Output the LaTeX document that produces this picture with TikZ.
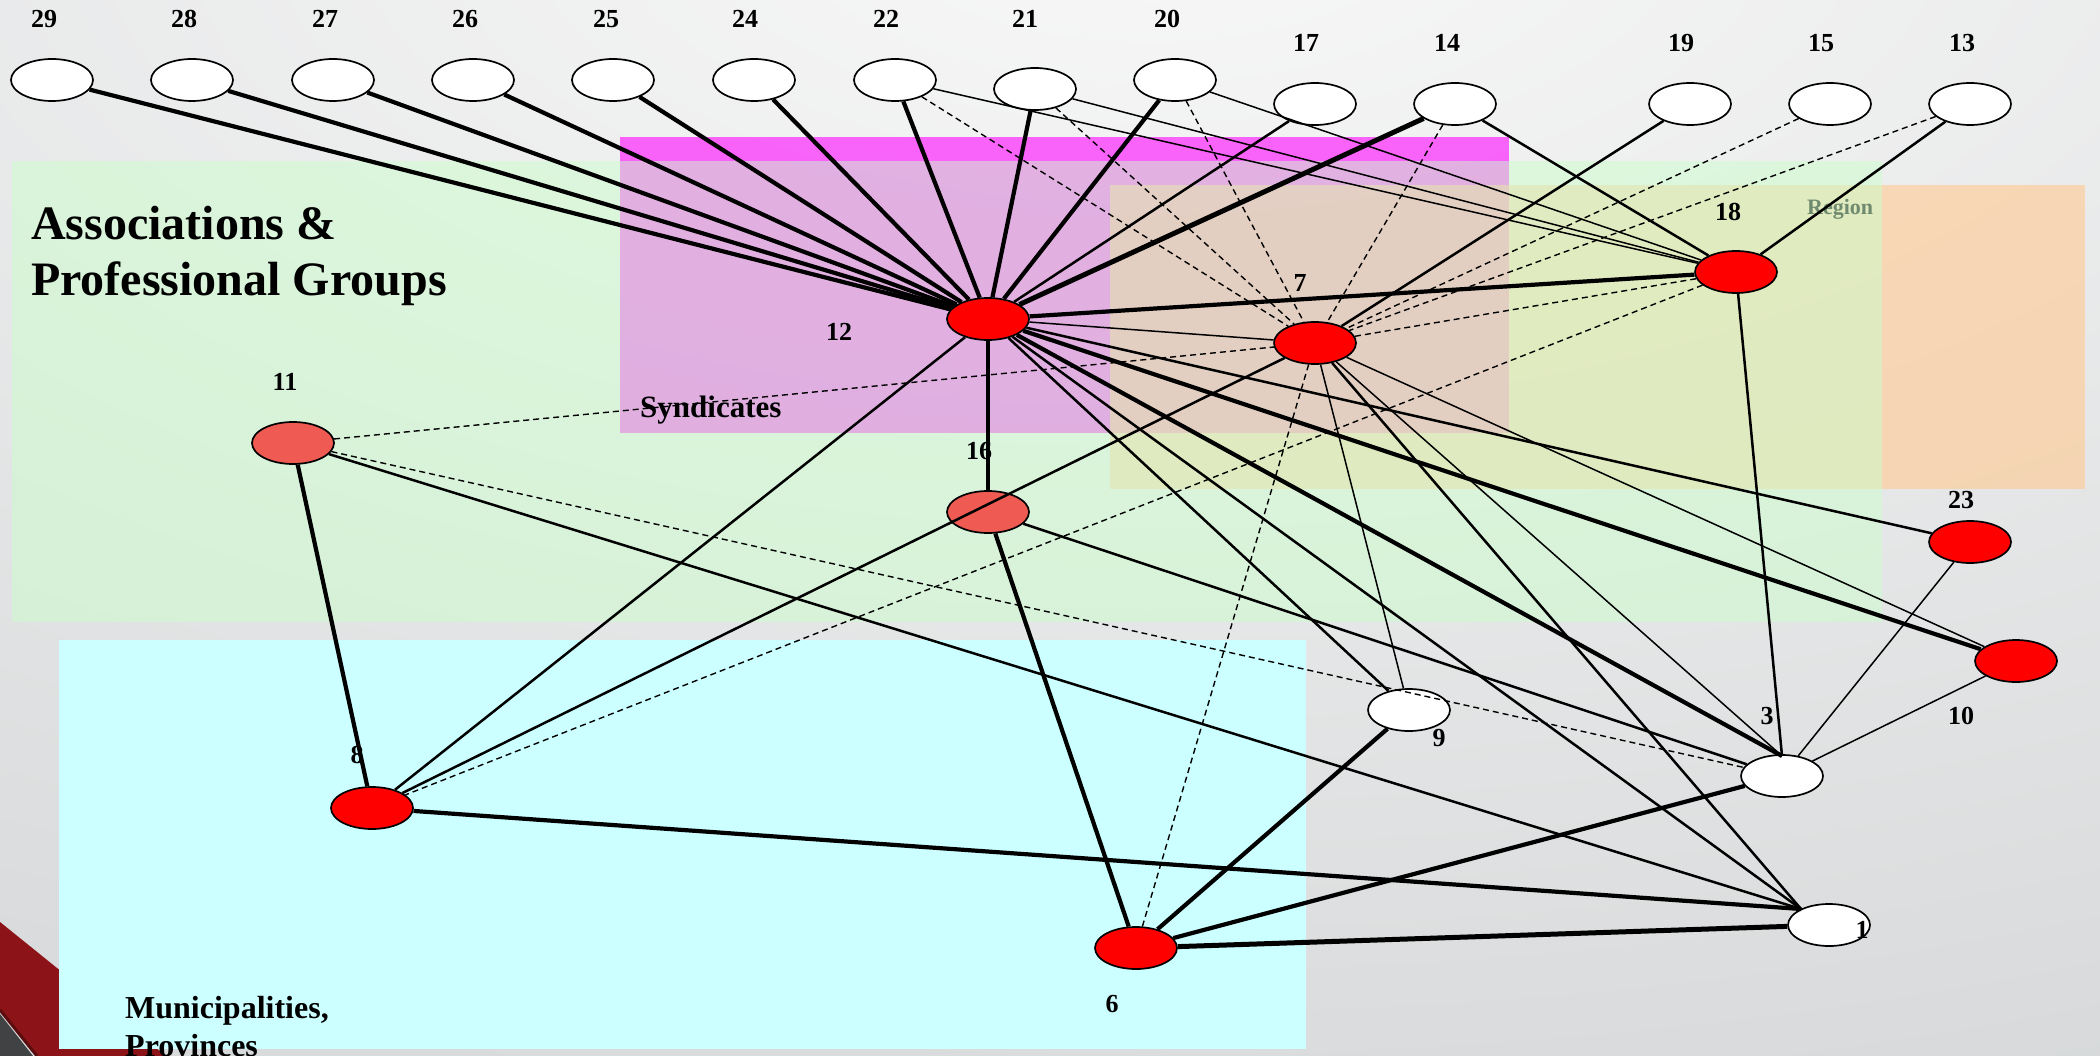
\documentclass[tikz,border=0pt]{standalone}
\usepackage{fontspec}
\setmainfont{Liberation Serif}
\usetikzlibrary{shapes.geometric}
\definecolor{bgIn}{HTML}{F8F8F8}
\definecolor{bgOut}{HTML}{BABEC0}
\definecolor{grn}{HTML}{CCFFCC}
\definecolor{mag}{HTML}{FF00FF}
\definecolor{org}{HTML}{FFC990}
\definecolor{cyn}{HTML}{CCFFFF}
\definecolor{sal}{HTML}{EF5A52}
\definecolor{rgn}{HTML}{6F8A6F}
\definecolor{dred}{HTML}{8C1418}
\definecolor{ddred}{HTML}{5A0C0E}
\definecolor{dgray}{HTML}{404244}
\begin{document}
\begin{tikzpicture}[x=1pt,y=-1pt,
  nd/.style={ellipse, draw=black, line width=1.7pt, minimum width=82pt, minimum height=42pt, inner sep=0pt},
  wn/.style={nd, fill=white},
  rn/.style={nd, fill=red},
  sn/.style={nd, fill=sal},
  lbl/.style={font=\fontsize{26}{26}\selectfont\bfseries, inner sep=0pt},
  eT/.style={line width=4.2pt},
  eX/.style={line width=5pt},
  eM/.style={line width=2.5pt},
  eS/.style={line width=1.5pt},
  eD/.style={line width=1.4pt, dash pattern=on 6pt off 4pt}]
\useasboundingbox (0,0) rectangle (2100,1056);
% background
\begin{scope}
\clip (0,0) rectangle (2100,1056);
\shade[inner color=bgIn, outer color=bgOut] (1150,-100) ellipse [x radius=4900pt, y radius=2350pt];
% red decoration bottom-left
\fill[dred] (0,922) -- (166,1056) -- (37,1056) -- (0,1010) -- cycle;
\fill[dgray] (0,1014) -- (33,1056) -- (0,1056) -- cycle;
\draw[ddred, line width=3pt] (0,1010) -- (37,1056);
\end{scope}
% group boxes
\fill[mag, opacity=0.59] (620,137) rectangle (1509,433);
\fill[org, opacity=0.6] (1110,185) rectangle (2085,489);
\fill[grn, opacity=0.5] (12,161) rectangle (1882,622);
\fill[cyn] (59,640) rectangle (1306,1049);
% texts
\node[anchor=base west, inner sep=0pt, font=\fontsize{48}{48}\selectfont\bfseries] (tAssoc) at (31,240) {Associations \&};
\node[anchor=base west, inner sep=0pt, font=\fontsize{48}{48}\selectfont\bfseries] (tProf) at (31,296) {Professional Groups};
\node[anchor=base west, inner sep=0pt, font=\fontsize{31}{31}\selectfont\bfseries] (tSynd) at (640,417) {Syndicates};
\node[anchor=base west, inner sep=0pt, font=\fontsize{32}{32}\selectfont\bfseries] (tMun) at (125,1018) {Municipalities,};
\node[anchor=base west, inner sep=0pt, font=\fontsize{32}{32}\selectfont\bfseries] (tProv) at (125,1056) {Provinces};
\node[anchor=base west, inner sep=0pt, text=rgn, font=\fontsize{22}{22}\selectfont\bfseries] (tReg) at (1807,215) {Region};
% nodes
\node[wn] (n29) at (52,80) {};
\node[wn] (n28) at (192,80) {};
\node[wn] (n27) at (333,80) {};
\node[wn] (n26) at (473,80) {};
\node[wn] (n25) at (613,80) {};
\node[wn] (n24) at (754,80) {};
\node[wn] (n22) at (895,80) {};
\node[wn] (n21) at (1035,89) {};
\node[wn] (n20) at (1175,80) {};
\node[wn] (n17) at (1315,104) {};
\node[wn] (n14) at (1455,104) {};
\node[wn] (n19) at (1690,104) {};
\node[wn] (n15) at (1830,104) {};
\node[wn] (n13) at (1970,104) {};
\node[rn] (n12) at (988,319) {};
\node[rn] (n7) at (1315,343) {};
\node[rn] (n18) at (1736,272) {};
\node[sn] (n11) at (293,443) {};
\node[sn] (n16) at (988,512) {};
\node[rn] (n8) at (372,808) {};
\node[rn] (n6) at (1136,948) {};
\node[wn] (n9) at (1409,710) {};
\node[wn] (n3) at (1782,776) {};
\node[wn] (n1) at (1829,925) {};
\node[rn] (n23) at (1970,542) {};
\node[rn] (n10) at (2016,661) {};
\coordinate (c1) at (1801,909);
\coordinate (c3) at (1782,756);
% edges to hub 12
\draw[eT] (n29) -- (n12);
\draw[eT] (n28) -- (n12);
\draw[eT] (n27) -- (n12);
\draw[eT] (n26) -- (n12);
\draw[eT] (n25) -- (n12);
\draw[eT] (n24) -- (n12);
\draw[eT] (n22) -- (n12);
\draw[eT] (n21) -- (n12);
\draw[eT] (n20) -- (n12);
\draw[eM] (n17) -- (n12);
\draw[eX] (n14) -- (n12);
\draw[eT] (n12) -- (n18);
\draw[eS] (n12) -- (n7);
\draw[eT] (n12) -- (n16);
\draw[eM] (n12) -- (n8);
\draw[eM] (n12) -- (n9);
\draw[eM] (n12) -- (c1);
\draw[eT] (n12) -- (c3);
\draw[eT] (n12) -- (n10);
\draw[eM] (n12) -- (n23);
% node 7
\draw[eM] (n19) -- (n7);
\draw[eM] (n8) -- (n7);
\draw[eM] (n7) -- (c1);
\draw[eS] (n7) -- (n9);
\draw[eS] (n7) -- (c3);
\draw[eS] (n7) -- (n10);
% node 18
\draw[eM] (n13) -- (n18);
\draw[eM] (n14) -- (n18);
\draw[eS] (n20) -- (n18);
\draw[eS] (n21) -- (n18);
\draw[eS] (n22) -- (n18);
\draw[eM] (n18) -- (c3);
% others
\draw[eT] (n11) -- (n8);
\draw[eM] (n11) -- (c1);
\draw[eT] (n16) -- (n6);
\draw[eM] (n16) -- (n3);
\draw[eT] (n8) -- (c1);
\draw[eT] (n6) -- (n9);
\draw[eT] (n6) -- (n3);
\draw[eX] (n6) -- (n1);
\draw[eS] (n3) -- (n23);
\draw[eS] (n3) -- (n10);
% dashed
\draw[eD] (n22) -- (n7);
\draw[eD] (n21) -- (n7);
\draw[eD] (n20) -- (n7);
\draw[eD] (n14) -- (n7);
\draw[eD] (n15) -- (n7);
\draw[eD] (n13) -- (n7);
\draw[eD] (n11) -- (n7);
\draw[eD] (n18) -- (n7);
\draw[eD] (n6) -- (n7);
\draw[eD] (n18) -- (n8);
\draw[eD] (n11) -- (n3);
% labels
\node[lbl] (l29) at (44,19) {29};
\node[lbl] (l28) at (184,19) {28};
\node[lbl] (l27) at (325,19) {27};
\node[lbl] (l26) at (465,19) {26};
\node[lbl] (l25) at (606,19) {25};
\node[lbl] (l24) at (745,19) {24};
\node[lbl] (l22) at (886,19) {22};
\node[lbl] (l21) at (1025,19) {21};
\node[lbl] (l20) at (1167,19) {20};
\node[lbl] (l17) at (1306,43) {17};
\node[lbl] (l14) at (1447,43) {14};
\node[lbl] (l19) at (1681,43) {19};
\node[lbl] (l15) at (1821,43) {15};
\node[lbl] (l13) at (1962,43) {13};
\node[lbl] (l12) at (839,332) {12};
\node[lbl] (l7) at (1300,283) {7};
\node[lbl] (l18) at (1728,212) {18};
\node[lbl] (l11) at (285,382) {11};
\node[lbl] (l16) at (979,451) {16};
\node[lbl] (l8) at (357,755) {8};
\node[lbl] (l6) at (1112,1004) {6};
\node[lbl] (l9) at (1439,738) {9};
\node[lbl] (l3) at (1767,716) {3};
\node[lbl] (l1) at (1862,930) {1};
\node[lbl] (l23) at (1961,500) {23};
\node[lbl] (l10) at (1961,716) {10};
\end{tikzpicture}
\end{document}
